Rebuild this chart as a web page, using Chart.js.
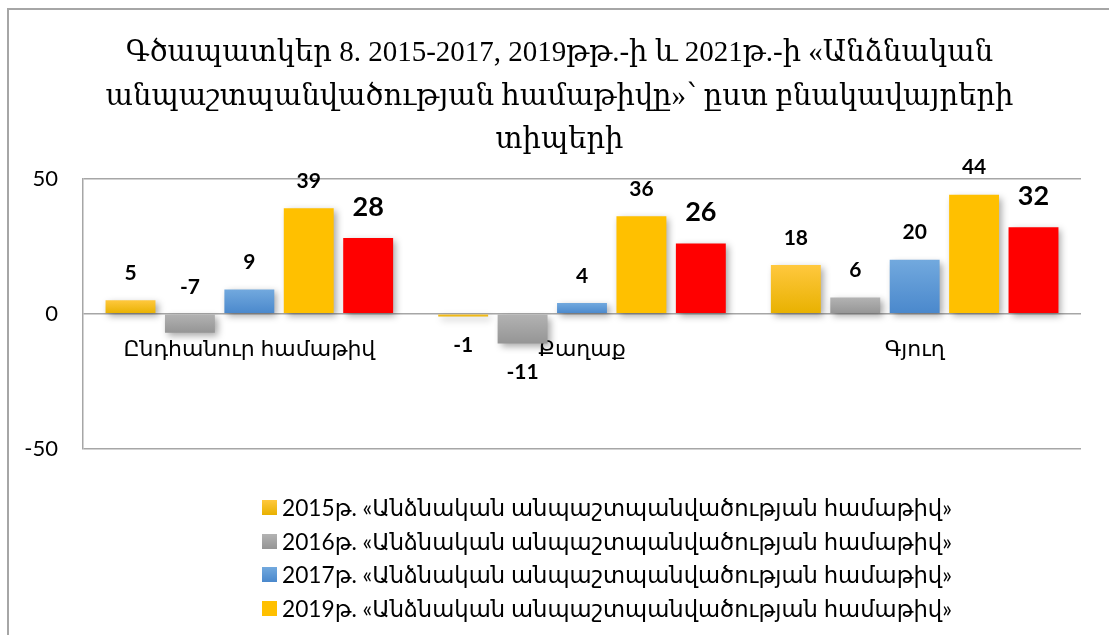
<!DOCTYPE html>
<html>
<head>
<meta charset="utf-8">
<script src="https://cdn.jsdelivr.net/npm/chart.js@4.4.1/dist/chart.umd.min.js"></script>
<style>
  html, body { margin: 0; padding: 0; background: #fff; overflow: hidden; }
  #wrap { position: relative; width: 1109px; height: 635px; overflow: hidden; }
  #frame { position: absolute; left: 7px; top: 8px; width: 1200px; height: 700px;
           border-left: 2px solid #a6a6a6; border-top: 2px solid #a6a6a6; pointer-events: none; }
  #legend { position: absolute; left: 262px; top: 491px; height: 134px; overflow: hidden;
            font-family: Lato, "DejaVu Sans", sans-serif; font-size: 22.7px; color: #000; }
  #legend .row { height: 33.5px; display: flex; align-items: center; white-space: nowrap; }
  #legend .box { width: 15px; height: 15px; margin-right: 5px; }
</style>
</head>
<body>
<div id="wrap">
  <canvas id="chart" width="1109" height="635"></canvas>
  <div id="frame"></div>
  <div id="legend"></div>
</div>
<script>
let titleLines = [
    "Գծապատկեր 8. 2015-2017, 2019թթ.-ի և 2021թ.-ի «Անձնական",
    "անպաշտպանվածության համաթիվը»՝ ըստ բնակավայրերի",
    "տիպերի"
];
let categories = ["Ընդհանուր համաթիվ", "Քաղաք", "Գյուղ"];
let seriesNames = [
    "2015թ. «Անձնական անպաշտպանվածության համաթիվ»",
    "2016թ. «Անձնական անպաշտպանվածության համաթիվ»",
    "2017թ. «Անձնական անպաշտպանվածության համաթիվ»",
    "2019թ. «Անձնական անպաշտպանվածության համաթիվ»",
    "2021թ. «Անձնական անպաշտպանվածության համաթիվ»"
];
let values2015 = [5, -1, 18];
let values2016 = [-7, -11, 6];
let values2017 = [9, 4, 20];
let values2019 = [39, 36, 44];
let values2021 = [28, 26, 32];
let yTicks = [-50, 0, 50];

// top / bottom colours of each bar
let colors = [
    ["#ffc83e", "#e8b100"],
    ["#b3b3b3", "#959595"],
    ["#72a9de", "#4a88cc"],
    ["#ffc000", "#ffc000"],
    ["#ff0000", "#ff0000"]
];

function shade(c){
    return function(context){
        let chart = context.chart;
        if(!chart.chartArea || context.raw === undefined) return c[0];
        let y = chart.scales.y;
        let a = y.getPixelForValue(Math.max(context.raw, 0));
        let b = y.getPixelForValue(Math.min(context.raw, 0));
        if(a === b) b = a + 1;
        let g = chart.ctx.createLinearGradient(0, a, 0, b);
        g.addColorStop(0, c[0]);
        g.addColorStop(1, c[1]);
        return g;
    };
}

let allValues = [values2015, values2016, values2017, values2019, values2021];

let datasets = allValues.map((vals, i) => ({
    label: seriesNames[i],
    data: vals,
    backgroundColor: shade(colors[i]),
    borderWidth: 0,
    categoryPercentage: 0.893,
    barPercentage: 0.84
}));

const barShadow = {
    id: 'barShadow',
    beforeDatasetsDraw(chart){
        let c = chart.ctx;
        c.save();
        c.shadowColor = 'rgba(0,0,0,0.35)';
        c.shadowBlur = 7;
        c.shadowOffsetX = 3;
        c.shadowOffsetY = 3;
    },
    afterDatasetsDraw(chart){
        chart.ctx.restore();
    }
};

// the title is centred on the whole frame, not on the plot
const titleShift = {
    id: 'titleShift',
    afterLayout(chart){
        if(chart.titleBlock){
            chart.titleBlock.left += 19;
            chart.titleBlock.right += 19;
        }
    }
};

// labels that sit above the zero line even though the value is negative
let labelAboveBase = [[1, 0]];

const valueLabels = {
    id: 'valueLabels',
    afterDraw(chart){
        let c = chart.ctx;
        c.save();
        c.textAlign = 'center';
        c.textBaseline = 'middle';
        c.fillStyle = '#000';
        chart.data.datasets.forEach((ds, i) => {
            let meta = chart.getDatasetMeta(i);
            let big = i === 4;
            c.font = 'bold ' + (big ? 27 : 21) + 'px Lato, "DejaVu Sans", sans-serif';
            let gap = big ? 31 : 27;
            meta.data.forEach((bar, j) => {
                let v = ds.data[j];
                let y;
                let above = labelAboveBase.some(p => p[0] === i && p[1] === j);
                if(above) y = bar.base - gap;
                else if(v >= 0) y = bar.y - gap;
                else y = bar.y + 29;
                c.fillText(String(v), bar.x, y);
            });
        });
        c.restore();
    }
};

let ctx = document.getElementById('chart').getContext('2d');

let chart = new Chart(ctx, {
    type: 'bar',
    data: { labels: categories, datasets: datasets },
    plugins: [titleShift, barShadow, valueLabels],
    options: {
        responsive: false,
        animation: false,
        layout: { padding: { left: 0, right: 28, top: 0, bottom: 186 } },
        plugins: {
            legend: { display: false },
            tooltip: { enabled: false },
            title: {
                display: true,
                text: titleLines,
                color: '#000',
                font: { family: '"Liberation Serif", "DejaVu Serif", serif', size: 29, weight: 'normal', lineHeight: 1.5 },
                padding: { top: 32, bottom: 16 }
            }
        },
        scales: {
            x: {
                position: { y: 0 },
                grid: { display: false, drawTicks: false },
                border: { display: false },
                ticks: {
                    color: '#000',
                    padding: 22,
                    font: { family: 'Lato, "DejaVu Sans", sans-serif', size: 22 }
                },
                afterFit(scale){ scale.height = 0; }
            },
            y: {
                min: -50,
                max: 50,
                afterBuildTicks(scale){ scale.ticks = yTicks.map(v => ({ value: v })); },
                grid: { color: '#a6a6a6', lineWidth: 1.5, drawTicks: false },
                border: { color: '#a6a6a6', width: 1.5 },
                ticks: {
                    color: '#000',
                    padding: 25,
                    font: { family: 'Lato, "DejaVu Sans", sans-serif', size: 22 }
                },
                afterFit(scale){ scale.width = 83; }
            }
        }
    }
});

let legendEl = document.getElementById('legend');
seriesNames.forEach((name, i) => {
    let row = document.createElement('div');
    row.className = 'row';
    let box = document.createElement('span');
    box.className = 'box';
    box.style.background = 'linear-gradient(' + colors[i][0] + ',' + colors[i][1] + ')';
    let txt = document.createElement('span');
    txt.textContent = name;
    row.appendChild(box);
    row.appendChild(txt);
    legendEl.appendChild(row);
});
</script>
</body>
</html>
